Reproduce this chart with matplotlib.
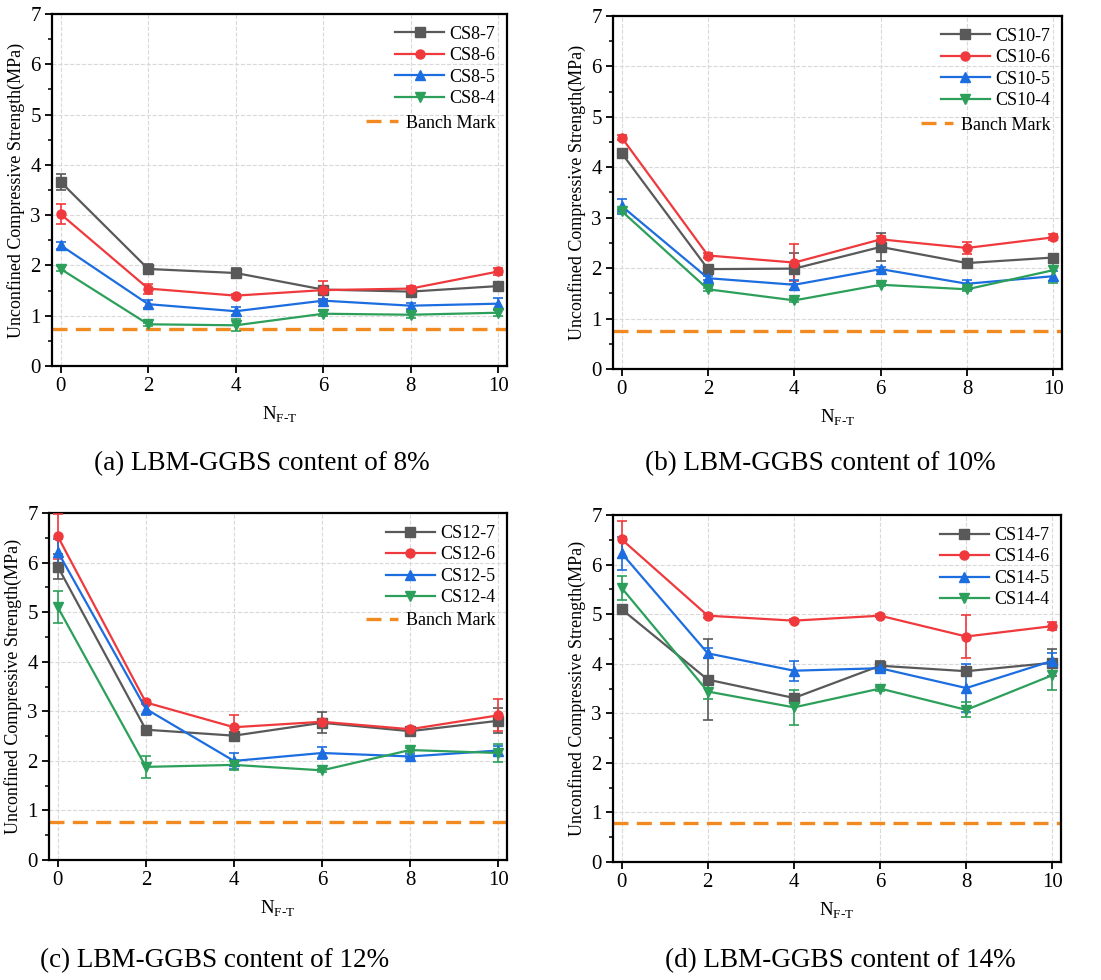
import matplotlib
matplotlib.use("Agg")
import matplotlib.pyplot as plt
from matplotlib.ticker import MultipleLocator

plt.rcParams['font.family'] = ['Liberation Serif', 'DejaVu Serif']
plt.rcParams['mathtext.fontset'] = 'custom'
plt.rcParams['mathtext.rm'] = 'Liberation Serif'

# freeze-thaw cycles
cycles = [0, 2, 4, 6, 8, 10]
cement_levels = ['7', '6', '5', '4']

# 8% LBM-GGBS
cs8_means = [[3.66, 1.93, 1.85, 1.52, 1.48, 1.59],
             [3.02, 1.54, 1.40, 1.51, 1.54, 1.88],
             [2.40, 1.23, 1.09, 1.30, 1.20, 1.24],
             [1.93, 0.83, 0.81, 1.04, 1.02, 1.06]]
cs8_errs = [[0.15, 0.10, 0.10, 0.05, 0.08, 0.07],
            [0.20, 0.10, 0.04, 0.18, 0.05, 0.06],
            [0.07, 0.08, 0.08, 0.04, 0.06, 0.12],
            [0.05, 0.03, 0.12, 0.05, 0.06, 0.06]]

# 10% LBM-GGBS
cs10_means = [[4.28, 1.98, 1.99, 2.42, 2.10, 2.21],
              [4.59, 2.25, 2.11, 2.57, 2.40, 2.61],
              [3.23, 1.80, 1.67, 1.98, 1.69, 1.84],
              [3.13, 1.58, 1.36, 1.67, 1.58, 1.96]]
cs10_errs = [[0.03, 0.03, 0.30, 0.28, 0.03, 0.04],
             [0.04, 0.04, 0.37, 0.06, 0.12, 0.06],
             [0.15, 0.04, 0.10, 0.04, 0.08, 0.10],
             [0.04, 0.03, 0.04, 0.03, 0.04, 0.25]]

# 12% LBM-GGBS
cs12_means = [[5.92, 2.63, 2.51, 2.77, 2.60, 2.81],
              [6.53, 3.18, 2.68, 2.79, 2.64, 2.92],
              [6.22, 3.05, 2.00, 2.16, 2.09, 2.21],
              [5.10, 1.88, 1.92, 1.81, 2.22, 2.16]]
cs12_errs = [[0.25, 0.04, 0.08, 0.21, 0.03, 0.25],
             [0.46, 0.04, 0.25, 0.04, 0.04, 0.32],
             [0.25, 0.12, 0.16, 0.12, 0.04, 0.10],
             [0.32, 0.22, 0.10, 0.03, 0.04, 0.18]]

# 14% LBM-GGBS
cs14_means = [[5.10, 3.68, 3.31, 3.96, 3.85, 4.02],
              [6.51, 4.97, 4.87, 4.97, 4.55, 4.76],
              [6.23, 4.21, 3.86, 3.91, 3.51, 4.06],
              [5.53, 3.44, 3.12, 3.50, 3.07, 3.77]]
cs14_errs = [[0.07, 0.82, 0.05, 0.10, 0.04, 0.27],
             [0.38, 0.04, 0.03, 0.03, 0.43, 0.08],
             [0.33, 0.10, 0.20, 0.10, 0.48, 0.15],
             [0.25, 0.15, 0.35, 0.04, 0.15, 0.30]]

bench_marks = [0.74, 0.75, 0.76, 0.79]
contents = [8, 10, 12, 14]
captions = ['(a) LBM-GGBS content of 8%', '(b) LBM-GGBS content of 10%',
            '(c) LBM-GGBS content of 12%', '(d) LBM-GGBS content of 14%']
show_bench_legend = [True, True, True, False]

colors = ['#595959', '#f0393c', '#1c6de0', '#2ca05a']
markers = ['s', 'o', '^', 'v']
bench_color = '#f28a22'

fig = plt.figure(figsize=(11.01, 9.80), dpi=100)
axes_rects = [[0.0472, 0.6265, 0.4133, 0.3592],
              [0.5568, 0.6235, 0.4078, 0.3602],
              [0.0445, 0.1224, 0.4160, 0.3540],
              [0.5568, 0.1204, 0.4069, 0.3540]]
caption_pos = [(0.238, 0.527), (0.745, 0.527), (0.195, 0.020), (0.763, 0.020)]

all_means = [cs8_means, cs10_means, cs12_means, cs14_means]
all_errs = [cs8_errs, cs10_errs, cs12_errs, cs14_errs]

for k in range(4):
    ax = fig.add_axes(axes_rects[k])
    handles = []
    labels = []
    for i in range(4):
        cont = ax.errorbar(cycles, all_means[k][i], yerr=all_errs[k][i],
                           color=colors[i], marker=markers[i], markersize=6.5,
                           lw=1.6, elinewidth=1.2, capsize=3.5, capthick=1.2,
                           zorder=3)
        handles.append(cont[0])
        labels.append(f'CS{contents[k]}-{cement_levels[i]}')
    bench = ax.axhline(bench_marks[k], color=bench_color, lw=2.4,
                       dashes=(4.5, 2.5), zorder=2)

    ax.set_xlim(-0.2, 10.2)
    ax.set_ylim(0, 7)
    ax.set_xticks(cycles)
    ax.yaxis.set_major_locator(MultipleLocator(1))
    ax.yaxis.set_minor_locator(MultipleLocator(0.5))
    ax.grid(True, which='major', color='#d9d9d9', ls='--', lw=0.8, zorder=0)
    ax.tick_params(axis='both', which='major', labelsize=15, direction='out',
                   length=5, width=1.3, pad=3)
    ax.tick_params(axis='y', which='minor', direction='out', length=3, width=1.1)
    for sp in ax.spines.values():
        sp.set_linewidth(1.6)

    ax.set_ylabel('Unconfined Compressive Strength(MPa)', fontsize=13, labelpad=4)
    ax.set_xlabel(r'N$_{\mathrm{F\text{-}T}}$', fontsize=13.5, labelpad=6)

    leg = ax.legend(handles, labels, loc='upper right', bbox_to_anchor=(1.0, 1.0),
                    frameon=False, fontsize=13, handlelength=2.7,
                    labelspacing=0.25, handletextpad=0.3, borderaxespad=0.25)
    if show_bench_legend[k]:
        ax.add_artist(leg)
        ax.legend([bench], ['Banch Mark'], loc='upper right',
                  bbox_to_anchor=(0.99, 0.735), frameon=False, fontsize=13,
                  handlelength=1.8, handletextpad=0.4, borderaxespad=0.0)

    fig.text(caption_pos[k][0], caption_pos[k][1], captions[k],
             fontsize=19.5, ha='center', va='center')

fig.savefig('out.png', dpi=100)
